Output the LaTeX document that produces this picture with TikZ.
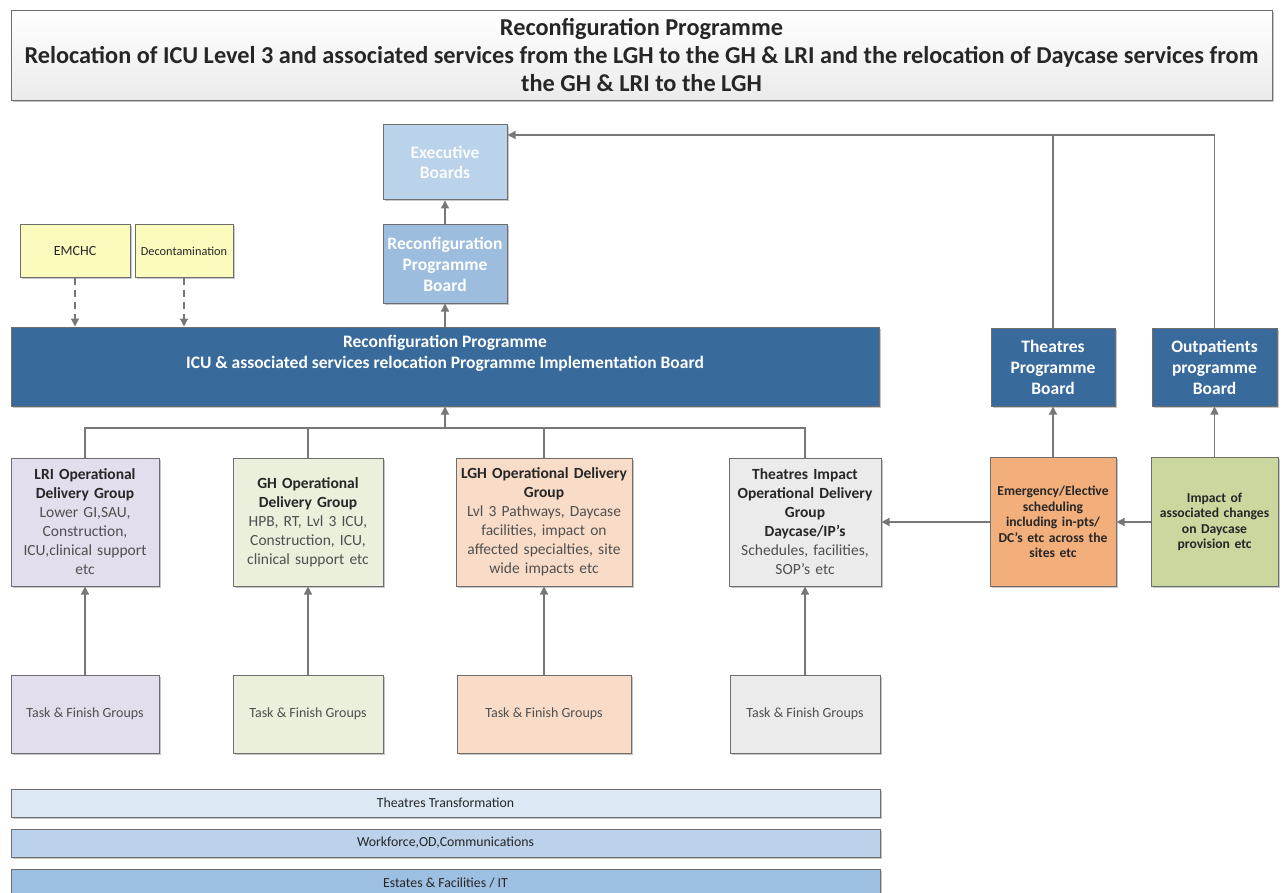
\documentclass[tikz,border=0pt]{standalone}
\usepackage{fontspec}
\setmainfont{Carlito}
\usetikzlibrary{arrows.meta,shadows}
\definecolor{bordc}{HTML}{6E6E6E}
\definecolor{linec}{HTML}{777777}
\definecolor{hdrc}{HTML}{262626}
\definecolor{bodyc}{HTML}{4F4F4F}
\definecolor{darkblue}{HTML}{386A9C}
\definecolor{midblue}{HTML}{9DBDDF}
\definecolor{lightblue}{HTML}{BAD2EA}
\definecolor{yel}{HTML}{FBFBBE}
\definecolor{lav}{HTML}{E3DEEE}
\definecolor{grn}{HTML}{EAF0DC}
\definecolor{peach}{HTML}{F9DCC8}
\definecolor{gry}{HTML}{EBEBEB}
\definecolor{orng}{HTML}{F2AF7C}
\definecolor{olive}{HTML}{CAD8A0}
\definecolor{barA}{HTML}{DCE8F4}
\definecolor{barB}{HTML}{BBD2EA}
\definecolor{barC}{HTML}{9DC0E2}
\newcommand{\hdr}[1]{\textbf{\textcolor{hdrc}{#1}}}
\begin{document}
\begin{tikzpicture}[x=1pt,y=-1pt,
  box/.style={draw=bordc, line width=1pt, rectangle, inner sep=2pt, align=center,
    drop shadow={shadow xshift=1.5pt,shadow yshift=-1.5pt,fill=black,opacity=0.22}},
  opgrp/.style={box, minimum height=128pt, text=bodyc, font=\fontsize{15.5}{19}\selectfont},
  task/.style={box, minimum height=78pt, text=bodyc, font=\fontsize{14}{16}\selectfont},
  darkbox/.style={box, fill=darkblue, text=white, font=\bfseries\fontsize{17.5}{21}\selectfont},
  bar/.style={box, minimum width=869pt, minimum height=28pt, text=hdrc, font=\fontsize{13.8}{15}\selectfont},
  ln/.style={draw=linec, line width=1.3pt},
  arr/.style={ln, -{Triangle[width=8pt,length=8pt]}},
  darr/.style={arr, dash pattern=on 7pt off 5pt}
]
\clip (0,0) rectangle (1284,893);
\fill[white] (0,0) rectangle (1284,893);

% title
\node[box, top color=white, bottom color=gry, minimum width=1261pt, minimum height=90pt,
  text=hdrc, font=\bfseries\fontsize{24.3}{28}\selectfont] (title) at (641.5,55.5)
  {Reconfiguration Programme\\Relocation of ICU Level 3 and associated services from the LGH to the GH \& LRI and the relocation of Daycase services from\\the GH \& LRI to the LGH};

% top boards
\node[box, fill=lightblue, text=white!92!lightblue, minimum width=124pt, minimum height=75pt,
  font=\bfseries\fontsize{17.5}{20}\selectfont] (exec) at (445,162.5) {Executive\\Boards};
\node[box, fill=midblue, text=white, minimum width=124pt, minimum height=78pt,
  font=\bfseries\fontsize{17.5}{21}\selectfont] (rpb) at (445,264) {Reconfiguration\\Programme\\Board};

\node[box, fill=yel, text=hdrc, minimum width=110pt, minimum height=52pt, font=\fontsize{14}{16}\selectfont] (emchc) at (75,251) {EMCHC};
\node[box, fill=yel, text=hdrc, minimum width=98pt, minimum height=52pt, font=\fontsize{12.3}{14}\selectfont] (decon) at (184,251) {Decontamination};

% main bar
\node[box, fill=darkblue, minimum width=868pt, minimum height=79pt] (main) at (445,366.5) {};
\node[text=white, font=\bfseries\fontsize{17.5}{21}\selectfont, align=center, anchor=north, inner sep=0pt] (maintxt) at (445,335)
  {Reconfiguration Programme\\ICU \& associated services relocation Programme Implementation Board};

\node[darkbox, minimum width=124pt, minimum height=78pt] (tpb) at (1053,367) {Theatres\\Programme\\Board};
\node[darkbox, minimum width=125pt, minimum height=78pt] (opb) at (1214.5,367) {Outpatients\\programme\\Board};

% operational delivery groups
\node[opgrp, fill=lav, minimum width=148pt, text width=144pt] (lri) at (85,522)
  {\hdr{LRI Operational}\\\hdr{Delivery Group}\\Lower GI,SAU,\\Construction,\\ICU,clinical support\\etc};
\node[opgrp, fill=grn, minimum width=150pt, text width=146pt] (gh) at (308,522)
  {\hdr{GH Operational}\\\hdr{Delivery Group}\\HPB, RT, Lvl 3 ICU,\\Construction, ICU,\\clinical support etc};
\node[opgrp, fill=peach, minimum width=174pt, text width=172pt] (lgh) at (544,522)
  {\hdr{LGH Operational Delivery}\\\hdr{Group}\\Lvl 3 Pathways, Daycase\\facilities, impact on\\affected specialties, site\\wide impacts etc};
\node[opgrp, fill=gry, minimum width=150pt, text width=148pt] (ti) at (805,522)
  {\hdr{Theatres Impact}\\\hdr{Operational Delivery}\\\hdr{Group}\\\hdr{Daycase/IP’s}\\Schedules, facilities,\\SOP’s etc};

\node[box, fill=orng, minimum width=124pt, minimum height=129pt, text width=122pt, text=hdrc,
  font=\bfseries\fontsize{13.6}{15.5}\selectfont] (emerg) at (1053,522)
  {Emergency/Elective\\scheduling\\including in-pts/\\DC’s etc across the\\sites etc};
\node[box, fill=olive, minimum width=125pt, minimum height=129pt, text width=123pt, text=hdrc,
  font=\bfseries\fontsize{13.6}{15.5}\selectfont] (impact) at (1214.5,522)
  {Impact of\\associated changes\\on Daycase\\provision etc};

% task & finish
\node[task, fill=lav, minimum width=148pt] (t1) at (85,714) {Task \& Finish Groups};
\node[task, fill=grn, minimum width=150pt] (t2) at (308,714) {Task \& Finish Groups};
\node[task, fill=peach, minimum width=174pt] (t3) at (544,714) {Task \& Finish Groups};
\node[task, fill=gry, minimum width=150pt] (t4) at (805,714) {Task \& Finish Groups};

% bars
\node[bar, fill=barA] (b1) at (445.5,803) {Theatres Transformation};
\node[bar, fill=barB] (b2) at (445.5,843) {Workforce,OD,Communications};
\node[bar, fill=barC] (b3) at (445.5,883) {Estates \& Facilities / IT};

% connectors
\draw[arr] (rpb) -- (exec);
\draw[arr] (main) -- (rpb);
\coordinate (busL) at (85,428);
\coordinate (bus) at (445,428);
\coordinate (top) at (1214.5,135);
\draw[ln] (lri.north) |- (ti.north |- busL) -- (ti.north);
\draw[ln] (gh.north) -- (gh.north |- busL);
\draw[ln] (lgh.north) -- (lgh.north |- busL);
\draw[arr] (bus) -- (main.south);
\draw[arr] (t1) -- (lri);
\draw[arr] (t2) -- (gh);
\draw[arr] (t3) -- (lgh);
\draw[arr] (t4) -- (ti);
\draw[arr] (emerg.west) -- (ti.east |- emerg.west);
\draw[arr] (impact.west) -- (emerg.east |- impact.west);
\draw[arr] (emerg) -- (tpb);
\draw[arr] (impact) -- (opb);
\draw[arr] (opb.north) |- (exec.east |- top);
\draw[ln] (tpb.north) -- (tpb.north |- top);
\draw[darr] (emchc.south) -- (emchc.south |- main.north);
\draw[darr] (decon.south) -- (decon.south |- main.north);
\end{tikzpicture}
\end{document}
